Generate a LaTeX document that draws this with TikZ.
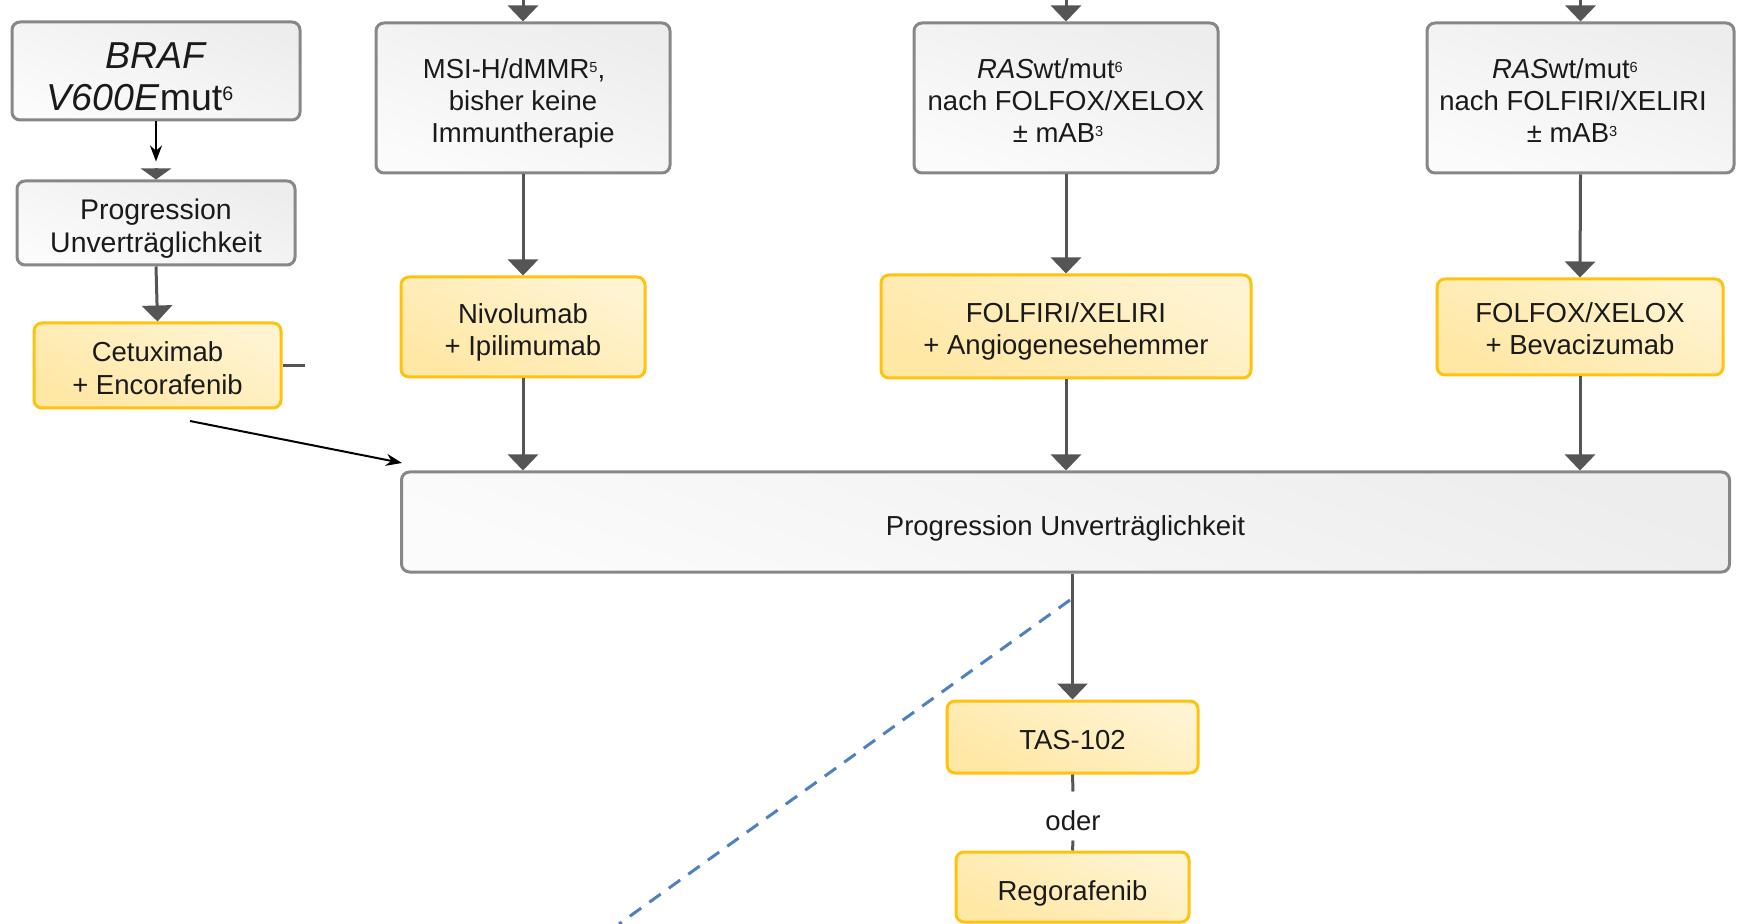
\documentclass[tikz,border=0pt]{standalone}
\usepackage{fontspec}
\setmainfont{Liberation Sans}
\usetikzlibrary{arrows.meta}

\definecolor{frame}{HTML}{878787}
\definecolor{greyA}{HTML}{EDEDED}
\definecolor{greyB}{HTML}{FBFBFB}
\definecolor{gold}{HTML}{FFC20E}
\definecolor{yelA}{HTML}{FFF4D2}
\definecolor{yelB}{HTML}{FFE7A4}
\definecolor{link}{HTML}{555555}
\definecolor{ink}{HTML}{1A1A1A}
\definecolor{dashblue}{HTML}{4F81BD}

% small raised footnote digits
\newcommand{\upnum}[1]{\raisebox{3pt}{\fontsize{7.3}{7.3}\selectfont #1}}
\newcommand{\upnumL}[1]{\raisebox{5pt}{\fontsize{9.8}{9.8}\selectfont #1}}
% centred lines of box text, set a little below the middle of the box
\newcommand{\btxt}[2][2.9pt]{\raisebox{-#1}[\height][\depth]{\begin{tabular}{@{}c@{}}#2\end{tabular}}}
% trailing blank that moves a centred line to the left by half its width
\newcommand{\tail}[1]{\hspace*{#1}}

\tikzset{
  base/.style={rounded corners=4pt, line width=1.5pt, inner sep=0pt,
    text=ink, font=\fontsize{13.75}{16}\selectfont},
  greybox/.style={base, draw=frame, top color=greyA, bottom color=greyB, shading angle=-20},
  yellowbox/.style={base, draw=gold, top color=yelA, bottom color=yelB, shading angle=-25},
  flow/.style={draw=link, line width=1.5pt, -{Triangle[width=15pt,length=8pt]}},
  plain/.style={draw=link, line width=1.5pt},
  thin/.style={draw=black, line width=1pt, -{Stealth[width=6pt,length=8pt]}},
}

\begin{document}
\begin{tikzpicture}[x=0.5pt, y=-0.5pt]
  \useasboundingbox (0,0) rectangle (1739,924);

  % left column: BRAF branch
  \node[greybox, minimum width=144pt, minimum height=49pt, font=\fontsize{18.75}{20.8}\selectfont]
    (braf) at (156,71) {\btxt[4.95pt]{\textit{BRAF}\\\textit{V600E}mut\upnumL{6}\tail{16pt}}};
  \node[greybox, minimum width=139pt, minimum height=42pt, font=\fontsize{14.2}{16.2}\selectfont]
    (progL) at (156,223) {\btxt[3.3pt]{Progression\\Unverträglichkeit}};
  \node[yellowbox, minimum width=123.5pt, minimum height=42.5pt, font=\fontsize{13.75}{16.5}\selectfont]
    (cetux) at (157.5,365.5) {\btxt[3.2pt]{Cetuximab\\+ Encorafenib}};

  % upper row of starting situations
  \node[greybox, minimum width=147pt, minimum height=75pt]
    (msi) at (523,98) {\btxt{MSI-H/dMMR\upnum{5},\tail{9pt}\\bisher keine\\Immuntherapie}};
  \node[greybox, minimum width=152pt, minimum height=75pt]
    (rasA) at (1066,98) {\btxt{\textit{RAS}wt/mut\upnum{6}\tail{16pt}\\nach FOLFOX/XELOX\\± mAB\upnum{3}\tail{8pt}}};
  \node[greybox, minimum width=153.5pt, minimum height=75pt]
    (rasB) at (1580.5,98) {\btxt{\textit{RAS}wt/mut\upnum{6}\tail{15.5pt}\\nach FOLFIRI/XELIRI\tail{7.5pt}\\± mAB\upnum{3}\tail{8.5pt}}};

  % therapies
  \node[yellowbox, minimum width=122pt, minimum height=50pt]
    (nivo) at (523,327) {\btxt{Nivolumab\\+ Ipilimumab}};
  \node[yellowbox, minimum width=185pt, minimum height=51.5pt]
    (folfiri) at (1066,326.5) {\btxt[3pt]{FOLFIRI/XELIRI\\+ Angiogenesehemmer}};
  \node[yellowbox, minimum width=143pt, minimum height=48pt]
    (folfox) at (1580,327) {\btxt[2.5pt]{FOLFOX/XELOX\\+ Bevacizumab}};

  % common progression box
  \node[greybox, minimum width=664pt, minimum height=50pt]
    (progC) at (1065.5,522) {\btxt[3.8pt]{Progression Unverträglichkeit}};

  % later lines
  \node[yellowbox, minimum width=125.5pt, minimum height=36pt]
    (tas) at (1072.5,737) {\btxt{TAS-102}};
  \node[base, draw=none, minimum height=23pt]
    (oder) at (1073,816) {\btxt[3.8pt]{oder}};
  \node[yellowbox, minimum width=116.5pt, minimum height=35pt]
    (rego) at (1072.5,887) {\btxt[3.3pt]{Regorafenib}};

  % free ends of connectors
  \coordinate (inMsi) at (523,-12);
  \coordinate (inRasA) at (1066,-12);
  \coordinate (inRasB) at (1580.5,-12);
  \coordinate (stubEnd) at (305,366);
  \coordinate (blackStart) at (190,421);
  \coordinate (blackEnd) at (402,463);
  \coordinate (dashTop) at (1070,600);
  \coordinate (dashBot) at (619,924);

  % connectors
  \draw[flow] (inMsi) -- (msi.north);
  \draw[flow] (inRasA) -- (rasA.north);
  \draw[flow] (inRasB) -- (rasB.north);
  \draw[flow] (msi.south) -- (nivo.north);
  \draw[flow] (rasA.south) -- (folfiri.north);
  \draw[flow] (rasB.south) -- (folfox.north);
  \draw[flow] (nivo.south) -- (progC.north -| nivo.south);
  \draw[flow] (folfiri.south) -- (progC.north -| folfiri.south);
  \draw[flow] (folfox.south) -- (progC.north -| folfox.south);
  \draw[flow] (progC.south -| tas.north) -- (tas.north);
  \draw[plain] (tas.south) -- (oder.north);
  \draw[plain] (oder.south) -- (rego.north);

  \draw[draw=link, line width=1.5pt, -{Triangle[width=15pt,length=5.5pt]}]
    ([yshift=5.5pt]progL.north) -- (progL.north);
  \draw[flow] (progL.south) -- (cetux.north);
  \draw[plain] (cetux.east |- stubEnd) -- (stubEnd);
  \draw[thin] (braf.south) -- ([yshift=9pt]progL.north);
  \draw[thin] (blackStart) -- (blackEnd);

  \draw[dashblue, line width=1.5pt, dash pattern=on 7pt off 5pt] (dashTop) -- (dashBot);
\end{tikzpicture}
\end{document}
